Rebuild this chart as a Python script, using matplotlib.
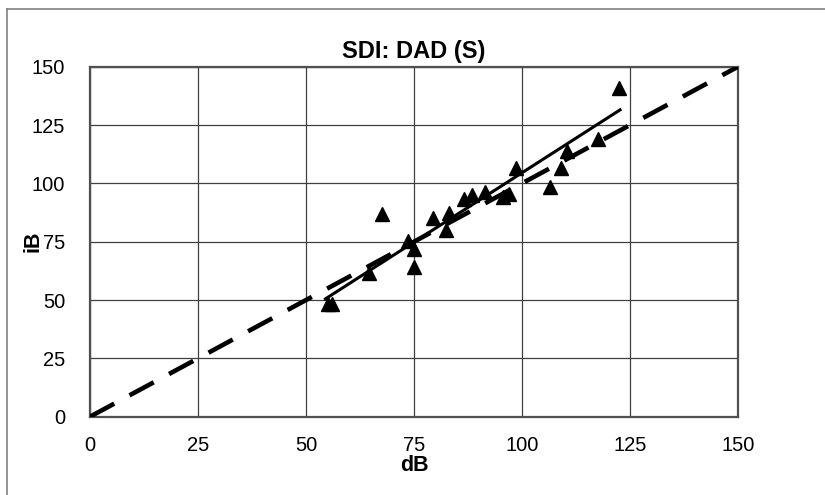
import matplotlib
matplotlib.use('Agg')
import matplotlib.pyplot as plt
from matplotlib.lines import Line2D
import numpy as np

plt.rcParams['font.family'] = ['Liberation Sans', 'DejaVu Sans']

# --- DATA: pengukuran dB vs iB ---
db_vals = [55, 56, 64.5, 67.5, 73.5, 75, 75, 79.5, 82.5, 83, 86.5,
           88.5, 91.5, 95.5, 97, 98.5, 106.5, 109, 110.5, 117.5, 122.5]
ib_vals = [48.5, 48.5, 61.5, 87, 75.5, 72, 64, 85, 80, 87.5, 93.5,
           95, 96.5, 94, 95.5, 106.5, 98.5, 106.5, 114, 119, 141]
# garis tren (regresi) dan garis identitas 1:1
trend_x = [54.5, 122.7]
trend_y = [50.5, 131.5]
identity = [0, 150]
ticks = [0, 25, 50, 75, 100, 125, 150]

fig = plt.figure(figsize=(8.25, 4.95), dpi=100)
ax = fig.add_axes([90 / 825, 1 - 416.7 / 495, 648 / 825, 350 / 495])

ax.plot(identity, identity, color='black', lw=3.3,
        linestyle=(0, (6, 3.8)), dash_capstyle='butt', zorder=3)
ax.plot(trend_x, trend_y, color='black', lw=2.2, zorder=3)
ax.plot(db_vals, ib_vals, linestyle='none', marker='^', ms=9.5,
        color='black', zorder=4)

ax.set_xlim(0, 150)
ax.set_ylim(0, 150)
ax.set_xticks(ticks)
ax.set_yticks(ticks)
ax.tick_params(length=0, labelsize=14.5, pad=18)
ax.tick_params(axis='x', pad=14)
ax.grid(True, color='#404040', lw=0.9)
ax.set_axisbelow(True)
for s in ax.spines.values():
    s.set_color('#505050')
    s.set_linewidth(1.6)

ax.set_title('SDI: DAD (S)', fontsize=17, fontweight='bold', pad=6)
ax.set_xlabel('dB', fontsize=15.5, fontweight='bold', labelpad=0)
ax.set_ylabel('iB', fontsize=15.5, fontweight='bold')
ax.yaxis.set_label_coords(-0.072, 0.5)

# bingkai luar
fig.add_artist(Line2D([7 / 825, 7 / 825], [0, 1 - 9 / 495],
                      transform=fig.transFigure, color='#808080', lw=1.2))
fig.add_artist(Line2D([7 / 825, 1], [1 - 9 / 495, 1 - 9 / 495],
                      transform=fig.transFigure, color='#808080', lw=1.2))

fig.savefig('out.png', dpi=100)
